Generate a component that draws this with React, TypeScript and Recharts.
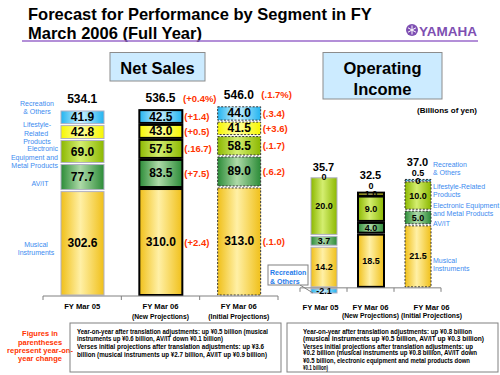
import React from 'react';
import { ComposedChart, Bar, Line, XAxis, YAxis, LabelList, ReferenceLine } from 'recharts';

const categories = ['FY Mar 05', 'FY Mar 06 (New Projections)', 'FY Mar 06 (Initial Projections)'];
const tickLine1 = ['FY Mar 05', 'FY Mar 06', 'FY Mar 06'];
const tickLine2 = ['', '(New Projections)', '(Initial Projections)'];

// net sales (billions of yen)
const salesMusical = [302.6, 310.0, 313.0];
const salesAvit = [77.7, 83.5, 89.0];
const salesElectronic = [69.0, 57.5, 58.5];
const salesLifestyle = [42.8, 43.0, 41.5];
const salesRecreation = [41.9, 42.5, 44.0];
const salesTotal = ['534.1', '536.5', '546.0'];

// year-on-year change in parentheses
const chgMusical = ['', '(+2.4)', '(.1.0)'];
const chgAvit = ['', '(+7.5)', '(.6.2)'];
const chgElectronic = ['', '(.16.7)', '(.1.7)'];
const chgLifestyle = ['', '(+0.5)', '(+3.6)'];
const chgRecreation = ['', '(+1.4)', '(.3.4)'];
const chgTotal = ['', '(+0.4%)', '(.1.7%)'];

// operating income (billions of yen)
const opMusical = [14.2, 18.5, 21.5];
const opAvit = [3.7, 4.0, 5.0];
const opElectronic = [20.0, 9.0, 10.0];
const opLifestyle = [0, 1.0, 0];
const opRecreation = [-2.1, 0, 0.5];
const opTotal = ['35.7', '32.5', '37.0'];

const FONT = '"Liberation Sans", Arial, Helvetica, sans-serif';
const RED = '#FF3300';
const BLUE = '#3D8BEF';
const SALES_BAR = 43;
const OP_BAR = 26;
const OP_MIN = -5;
const OP_MAX = 45;
const OP_PLOT_H = 146.5;

// the axis labels are set in a condensed face, so squeeze them to the widths seen
const tickTextLen: Record<string, number> = {
  'FY Mar 05': 36,
  'FY Mar 06': 36,
  '(New Projections)': 57,
  '(Initial Projections)': 61,
};

const salesData = categories.map((name, i) => ({
  name,
  musical: salesMusical[i],
  avit: salesAvit[i],
  electronic: salesElectronic[i],
  lifestyle: salesLifestyle[i],
  recreation: salesRecreation[i],
  top: salesMusical[i] + salesAvit[i] + salesElectronic[i] + salesLifestyle[i] + salesRecreation[i],
}));

const opData = categories.map((name, i) => {
  const parts = [opMusical[i], opAvit[i], opElectronic[i], opLifestyle[i], opRecreation[i]];
  return {
    name,
    musical: opMusical[i],
    avit: opAvit[i],
    electronic: opElectronic[i],
    lifestyle: opLifestyle[i],
    recreation: opRecreation[i],
    top: parts.filter((v) => v > 0).reduce((a, b) => a + b, 0),
  };
});

const series = [
  { key: 'musical', grad: 'mus', chg: chgMusical },
  { key: 'avit', grad: 'av', chg: chgAvit },
  { key: 'electronic', grad: 'el', chg: chgElectronic },
  { key: 'lifestyle', grad: 'life', chg: chgLifestyle },
  { key: 'recreation', grad: 'rec', chg: chgRecreation },
];

const gradients = [
  ['mus', '#F0C01A', '#FFF0A6'],
  ['av', '#2C8C38', '#AEDAA8'],
  ['el', '#8CB800', '#D4EE70'],
  ['life', '#F6F600', '#FFFF9E'],
  ['rec', '#22B4F0', '#CFF1FF'],
];

// border style per column: actual, new projection, initial projection
const frames: any[] = [
  { stroke: '#B0B0C4', strokeWidth: 1 },
  { stroke: '#000000', strokeWidth: 2 },
  { stroke: '#333333', strokeWidth: 1, strokeDasharray: '2 1.5' },
];

const fmt = (v: number) => (v === 0 ? '0' : v.toFixed(1));

const idx = (props: any) =>
  typeof props.index === 'number' ? props.index : categories.indexOf(props.payload?.name);

const Segment = (props: any) => {
  let { x, y, width, height } = props;
  const { fill } = props;
  if (height < 0) {
    y += height;
    height = -height;
  }
  if (!height) return <g />;
  const gap = height > 4 ? 1 : 0;
  return (
    <rect x={x} y={y + gap} width={width} height={Math.max(height - 2 * gap, 0.5)} fill={fill} {...frames[idx(props)]} />
  );
};

const valueLabel = (size: number, liftPositive = false) => (props: any) => {
  const { x, y, width, height, value } = props;
  if (value === undefined || value === null) return null;
  let cy = y + height / 2;
  if (liftPositive && value >= 0) cy = Math.min(y, y + height) - 6.5;
  return (
    <text x={x + width / 2} y={cy} textAnchor="middle" dominantBaseline="central" fontSize={size} fontWeight="bold" fill="#000" fontFamily={FONT}>
      {fmt(value)}
    </text>
  );
};

const changeLabel = (list: string[]) => (props: any) => {
  const { x, y, width, height } = props;
  const s = list[idx(props)];
  if (!s) return null;
  return (
    <text x={x + width + 2} y={y + height / 2} dominantBaseline="central" fontSize={9.5} fontWeight="bold" fill={RED} fontFamily={FONT}>
      {s}
    </text>
  );
};

const salesTotalLabel = (props: any) => {
  const { x, y } = props;
  const i = idx(props);
  return (
    <g>
      <text x={x} y={y - 11} textAnchor="middle" dominantBaseline="central" fontSize={12} fontWeight="bold" fill="#000" fontFamily={FONT}>
        {salesTotal[i]}
      </text>
      {chgTotal[i] && (
        <text x={x + SALES_BAR / 2 + 1} y={y - 11} dominantBaseline="central" fontSize={9.5} fontWeight="bold" fill={RED} fontFamily={FONT}>
          {chgTotal[i]}
        </text>
      )}
    </g>
  );
};

const opTotalLabel = (props: any) => {
  const { x, y } = props;
  const i = idx(props);
  const off = opRecreation[i] >= 0 ? 17.5 : 9.5;
  return (
    <text x={x} y={y - off} textAnchor="middle" dominantBaseline="central" fontSize={11} fontWeight="bold" fill="#000" fontFamily={FONT}>
      {opTotal[i]}
    </text>
  );
};

const TickText = ({ x, y, s }: any) => (
  <text
    x={x}
    y={y}
    textAnchor="middle"
    dominantBaseline="central"
    fontSize={7}
    fontWeight="bold"
    fill="#000"
    fontFamily={FONT}
    textLength={tickTextLen[s]}
    lengthAdjust="spacingAndGlyphs"
  >
    {s}
  </text>
);

const CategoryTick = (props: any) => {
  const { x, y, payload, zeroShift = 0, dy1 = 10, dy2 = 20, shifts = [0, 0, 0] } = props;
  const i = payload?.index ?? props.index ?? categories.indexOf(payload?.value);
  const half = payload?.offset ?? 0;
  const zy = y - zeroShift;
  const tx = x + (shifts[i] || 0);
  return (
    <g>
      <line x1={x - half} x2={x - half} y1={zy} y2={zy + 4} stroke="#808080" />
      {i === categories.length - 1 && <line x1={x + half} x2={x + half} y1={zy} y2={zy + 4} stroke="#808080" />}
      <TickText x={tx} y={y + dy1} s={tickLine1[i]} />
      {tickLine2[i] && <TickText x={tx} y={y + dy2} s={tickLine2[i]} />}
    </g>
  );
};

const Defs = ({ p }: { p: string }) => (
  <defs>
    {gradients.map(([k, edge, mid]) => (
      <linearGradient key={k} id={p + k} x1="0" y1="0" x2="1" y2="0">
        <stop offset="0%" stopColor={edge} />
        <stop offset="45%" stopColor={mid} />
        <stop offset="100%" stopColor={edge} />
      </linearGradient>
    ))}
  </defs>
);

const T = ({ x, y, s, size = 7, w = 'bold', c = '#000', a = 'start', len, base = 'central' }: any) => (
  <text
    x={x}
    y={y}
    fontSize={size}
    fontWeight={w}
    fill={c}
    textAnchor={a}
    dominantBaseline={base}
    fontFamily={FONT}
    textLength={len}
    lengthAdjust={len ? 'spacingAndGlyphs' : undefined}
  >
    {s}
  </text>
);

const Overlay = () => (
  <svg width={500} height={375} style={{ position: 'absolute', left: 0, top: 0, pointerEvents: 'none' }}>
    {/* title */}
    <T x={28} y={20} s="Forecast for Performance by Segment in FY" size={16.5} base="alphabetic" />
    <T x={28} y={38.5} s="March 2006 (Full Year)" size={16.5} base="alphabetic" />
    <line x1={22} x2={478} y1={41} y2={41} stroke="#9A6ACB" strokeWidth={1.5} />
    <circle cx={412} cy={30} r={6} fill="#7E4FB2" />
    <g stroke="#fff" strokeWidth={1}>
      <line x1={412} y1={25.5} x2={412} y2={34.5} />
      <line x1={408} y1={27.8} x2={416} y2={32.2} />
      <line x1={408} y1={32.2} x2={416} y2={27.8} />
    </g>
    <T x={419} y={35.5} s="YAMAHA" size={13.5} c="#7E4FB2" base="alphabetic" len={58} />

    {/* panel headers */}
    <rect x={110} y={52.5} width={95} height={28.5} fill="#CCEBFF" stroke="#8C8C8C" />
    <T x={157.5} y={74} s="Net Sales" size={16.5} a="middle" base="alphabetic" />
    <rect x={323} y={52.5} width={119} height={46.5} fill="#CCEBFF" stroke="#8C8C8C" />
    <T x={382.5} y={73.5} s="Operating" size={16.5} a="middle" base="alphabetic" />
    <T x={382.5} y={95} s="Income" size={16.5} a="middle" base="alphabetic" />
    <T x={417} y={110} s="(Billions of yen)" size={8} />

    {/* net sales segment names */}
    <T x={37} y={103} s="Recreation" size={7} w="normal" c={BLUE} a="middle" />
    <T x={37} y={111} s="& Others" size={7} w="normal" c={BLUE} a="middle" />
    <T x={37} y={124} s="Lifestyle-" size={7} w="normal" c={BLUE} a="middle" />
    <T x={36} y={133} s="Related" size={7} w="normal" c={BLUE} a="middle" />
    <T x={37} y={141} s="Products" size={7} w="normal" c={BLUE} a="middle" />
    <T x={58} y={148} s="Electronic" size={7} w="normal" c={BLUE} a="end" />
    <T x={58} y={157} s="Equipment and" size={7} w="normal" c={BLUE} a="end" />
    <T x={58} y={165} s="Metal Products" size={7} w="normal" c={BLUE} a="end" />
    <T x={40} y={183} s="AV/IT" size={7} w="normal" c={BLUE} a="middle" />
    <T x={36} y={244} s="Musical" size={7} w="normal" c={BLUE} a="middle" />
    <T x={36} y={252} s="Instruments" size={7} w="normal" c={BLUE} a="middle" />

    {/* operating income segment names */}
    <T x={433} y={164} s="Recreation" size={7} w="normal" c={BLUE} />
    <T x={433} y={172} s="& Others" size={7} w="normal" c={BLUE} />
    <T x={433} y={186} s="Lifestyle-Related" size={7} w="normal" c={BLUE} />
    <T x={433} y={194} s="Products" size={7} w="normal" c={BLUE} />
    <T x={433} y={205} s="Electronic Equipment" size={7} w="normal" c={BLUE} />
    <T x={433} y={213} s="and Metal Products" size={7} w="normal" c={BLUE} />
    <T x={433} y={223} s="AV/IT" size={7} w="normal" c={BLUE} />
    <T x={433} y={260} s="Musical" size={7} w="normal" c={BLUE} />
    <T x={433} y={268} s="Instruments" size={7} w="normal" c={BLUE} />

    {/* callout for negative segment */}
    <polyline points="300,285 313,293" fill="none" stroke="#808080" />
    <rect x={268} y={265} width={40} height={20} fill="#fff" stroke="#808080" />
    <T x={270} y={272} s="Recreation" size={7} c="#1F7BEA" />
    <T x={270} y={281} s="& Others" size={7} c="#1F7BEA" />

    {/* notes */}
    <T x={40} y={333} s="Figures in" size={7.5} c={RED} a="middle" />
    <T x={40} y={342} s="parentheses" size={7.5} c={RED} a="middle" />
    <T x={40} y={350} s="represent year-on-" size={7.5} c={RED} a="middle" />
    <T x={40} y={358} s="year change" size={7.5} c={RED} a="middle" />

    <rect x={70} y={323} width={211} height={49} fill="none" stroke="#808080" />
    <T x={77} y={331} s="Year-on-year after translation adjustments: up ¥0.5 billion (musical" len={191} />
    <T x={77} y={338.5} s="instruments up ¥0.6 billion, AV/IT down ¥0.1 billion)" len={146} />
    <T x={77} y={346.5} s="Verses initial projections after translation adjustments: up ¥3.6" len={187} />
    <T x={77} y={354} s="billion (musical instruments up ¥2.7 billion, AV/IT up ¥0.9 billion)" len={190} />

    <rect x={287} y={323} width={211} height={49} fill="none" stroke="#808080" />
    <T x={303} y={331} s="Year-on-year after translation adjustments: up ¥0.8 billion" len={169} />
    <T x={303} y={338.5} s="(musical instruments up ¥0.5 billion, AV/IT up ¥0.3 billion)" len={181} />
    <T x={303} y={346} s="Verses initial projections after translation adjustments: up" len={170} />
    <T x={303} y={352.5} s="¥0.2 billion (musical instruments up ¥0.8 billion, AV/IT down" len={174} />
    <T x={303} y={360} s="¥0.5 billion, electronic equipment and metal products down" len={167} />
    <T x={303} y={367} s="¥0.1 billion)" len={25} />
  </svg>
);

export default function App() {
  const opZeroShift = (0 - OP_MIN) * (OP_PLOT_H / (OP_MAX - OP_MIN));
  return (
    <div style={{ position: 'absolute', left: 0, top: 0, width: 500, height: 375, background: '#fff', fontFamily: FONT }}>
      <div style={{ position: 'absolute', left: 0, top: 0 }}>
        <ComposedChart width={300} height={330} data={salesData} margin={{ top: 87, right: 22, left: 43, bottom: 4 }}>
          <Defs p="ns-" />
          <XAxis
            dataKey="name"
            height={30}
            tickLine={false}
            tickSize={0}
            tickMargin={0}
            stroke="#808080"
            interval={0}
            tick={<CategoryTick zeroShift={0} dy1={10} dy2={20} />}
          />
          <YAxis hide domain={[0, 600]} tickCount={7} />
          {series.map((s) => (
            <Bar
              key={s.key}
              dataKey={s.key}
              stackId="ns"
              barSize={SALES_BAR}
              fill={`url(#ns-${s.grad})`}
              shape={Segment}
              isAnimationActive={false}
            >
              <LabelList dataKey={s.key} content={valueLabel(12)} />
              <LabelList dataKey={s.key} content={changeLabel(s.chg)} />
            </Bar>
          ))}
          <Line dataKey="top" stroke="none" dot={false} activeDot={false} legendType="none" isAnimationActive={false}>
            <LabelList dataKey="top" content={salesTotalLabel} />
          </Line>
        </ComposedChart>
      </div>
      <div style={{ position: 'absolute', left: 280, top: 0 }}>
        <ComposedChart
          width={220}
          height={375}
          data={opData}
          stackOffset="sign"
          margin={{ top: 156, right: 59, left: 20, bottom: 42.5 }}
        >
          <Defs p="oi-" />
          <XAxis
            dataKey="name"
            height={30}
            axisLine={false}
            tickLine={false}
            tickSize={0}
            tickMargin={0}
            interval={0}
            tick={<CategoryTick zeroShift={opZeroShift} dy1={4.5} dy2={12.5} shifts={[-3, 0, 14]} />}
          />
          <YAxis hide domain={[OP_MIN, OP_MAX]} tickCount={11} />
          {series.map((s) => (
            <Bar
              key={s.key}
              dataKey={s.key}
              stackId="oi"
              barSize={OP_BAR}
              fill={`url(#oi-${s.grad})`}
              shape={Segment}
              isAnimationActive={false}
            >
              <LabelList dataKey={s.key} content={valueLabel(9, s.key === 'recreation')} />
            </Bar>
          ))}
          <ReferenceLine y={0} stroke="#808080" />
          <Line dataKey="top" stroke="none" dot={false} activeDot={false} legendType="none" isAnimationActive={false}>
            <LabelList dataKey="top" content={opTotalLabel} />
          </Line>
        </ComposedChart>
      </div>
      <Overlay />
    </div>
  );
}
